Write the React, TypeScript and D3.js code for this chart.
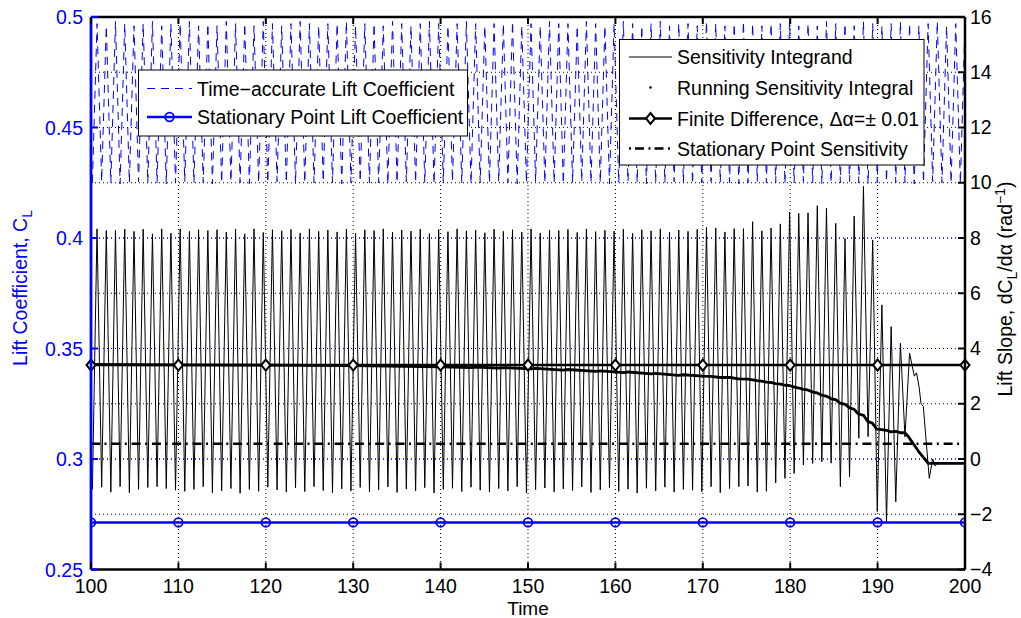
import React from 'react';
import * as d3 from 'd3';

const W = 1021, H = 618;
const PL = 91, PR = 965, PT = 17, PB = 569.5;

const xTicks = [100, 110, 120, 130, 140, 150, 160, 170, 180, 190, 200];
const leftTicks = [0.25, 0.3, 0.35, 0.4, 0.45, 0.5];
const leftTickLabels = ['0.25', '0.3', '0.35', '0.4', '0.45', '0.5'];
const rightTicks = [-4, -2, 0, 2, 4, 6, 8, 10, 12, 14, 16];
const rightTickLabels = ['−4', '−2', '0', '2', '4', '6', '8', '10', '12', '14', '16'];

// times of the shedding-cycle maxima and minima
const peakTime = [
  100.69, 101.75, 102.80, 103.86, 104.92, 105.97, 107.03, 108.09, 109.14, 110.20,
  111.26, 112.31, 113.37, 114.42, 115.48, 116.54, 117.59, 118.65, 119.71, 120.76,
  121.82, 122.88, 123.93, 124.99, 126.05, 127.10, 128.16, 129.22, 130.27, 131.33,
  132.39, 133.44, 134.50, 135.55, 136.61, 137.67, 138.72, 139.78, 140.84, 141.89,
  142.95, 144.01, 145.06, 146.12, 147.18, 148.23, 149.29, 150.35, 151.40, 152.46,
  153.52, 154.57, 155.63, 156.68, 157.74, 158.80, 159.85, 160.91, 161.97, 163.02,
  164.08, 165.14, 166.19, 167.25, 168.31, 169.36, 170.42, 171.48, 172.53, 173.59,
  174.65, 175.70, 176.76, 177.81, 178.87, 179.93, 180.98, 182.04, 183.10, 184.15,
  185.21, 186.27, 187.32, 188.38, 189.44, 190.49, 191.55, 192.61, 193.66, 194.72,
  195.78, 196.83, 197.89, 198.94, 200.00,
];
const troughTime = [
  100.16, 101.22, 102.27, 103.33, 104.39, 105.44, 106.50, 107.56, 108.61, 109.67,
  110.73, 111.78, 112.84, 113.89, 114.95, 116.01, 117.06, 118.12, 119.18, 120.23,
  121.29, 122.35, 123.40, 124.46, 125.52, 126.57, 127.63, 128.69, 129.74, 130.80,
  131.86, 132.91, 133.97, 135.02, 136.08, 137.14, 138.19, 139.25, 140.31, 141.36,
  142.42, 143.48, 144.53, 145.59, 146.65, 147.70, 148.76, 149.82, 150.87, 151.93,
  152.99, 154.04, 155.10, 156.15, 157.21, 158.27, 159.32, 160.38, 161.44, 162.49,
  163.55, 164.61, 165.66, 166.72, 167.78, 168.83, 169.89, 170.95, 172.00, 173.06,
  174.12, 175.17, 176.23, 177.28, 178.34, 179.40, 180.45, 181.51, 182.57, 183.62,
  184.68, 185.74, 186.79, 187.85, 188.91, 189.96, 191.02, 192.08, 193.13, 194.19,
  195.25, 196.30, 197.36, 198.41, 199.47,
];

// Sensitivity integrand (right axis): maxima and minima per cycle
const integrandPeak = [
  8.33, 8.27, 8.27, 8.32, 8.24, 8.32, 8.15, 8.33, 8.18, 8.33,
  8.24, 8.30, 8.27, 8.30, 8.21, 8.32, 8.15, 8.33, 8.20, 8.30,
  8.26, 8.31, 8.18, 8.33, 8.24, 8.29, 8.22, 8.32, 8.17, 8.30,
  8.27, 8.33, 8.21, 8.29, 8.25, 8.32, 8.16, 8.31, 8.23, 8.33,
  8.26, 8.28, 8.19, 8.32, 8.24, 8.30, 8.22, 8.33, 8.18, 8.29,
  8.27, 8.31, 8.20, 8.33, 8.23, 8.28, 8.25, 8.32, 8.17, 8.30,
  8.26, 8.33, 8.21, 8.29, 8.24, 8.31,
  8.38, 8.36, 8.22, 8.34, 8.34, 8.59, 8.26, 8.36, 8.51, 8.94,
  8.89, 8.91, 9.17, 9.08, 8.53, 7.98, 8.79, 9.87, 7.93, 5.58,
  4.79, 4.19, 3.83,
];
const integrandTrough = [
  -1.10, -1.02, -1.20, -1.00, -1.22, -1.10, -1.03, -1.00, -1.07, -1.13,
  -1.17, -1.10, -1.00, -1.22, -1.15, -1.07, -1.24, -1.10, -1.17, -1.02,
  -1.12, -1.20, -1.05, -1.18, -1.00, -1.14, -1.22, -1.08, -1.16, -1.03,
  -1.19, -1.11, -1.01, -1.21, -1.09, -1.15, -1.04, -1.23, -1.10, -1.06,
  -1.18, -1.02, -1.13, -1.20, -1.07, -1.16, -1.00, -1.22, -1.11, -1.05,
  -1.19, -1.08, -1.14, -1.01, -1.21, -1.12, -1.04, -1.17, -1.09, -1.23,
  -1.06, -1.15, -1.02, -1.20, -1.10, -1.13,
  -1.18, -1.00, -1.22, -1.07, -1.00, -0.98, -1.20, -1.17, -0.86, -0.70,
  -0.52, -0.22, -0.16, -0.10, -0.15, -1.00, -0.64, 0.75, 0.81, -1.90,
  -2.27, -1.55, 0.80,
];
const integrandTailTime = [194.2, 194.45, 194.75, 194.97, 195.23, 195.91, 196.3, 196.57, 196.83];
const integrandTailValue = [3.0, 3.12, 2.6, 2.0, 1.9, -0.7, 0.0, -0.25, -0.14];

// Time-accurate lift coefficient (left axis): maxima and minima per cycle
const liftHigh = [
  0.497, 0.496, 0.498, 0.497, 0.496, 0.497, 0.498, 0.496, 0.497, 0.497,
  0.498, 0.496, 0.497, 0.496, 0.498, 0.497, 0.497, 0.496, 0.498, 0.497,
  0.496, 0.497, 0.498, 0.497, 0.496, 0.497, 0.497, 0.498, 0.496, 0.497,
  0.497, 0.496, 0.498, 0.497, 0.496, 0.497, 0.498, 0.497, 0.496, 0.497,
  0.498, 0.497, 0.496, 0.497, 0.497, 0.498, 0.496, 0.497, 0.496, 0.498,
  0.497, 0.497, 0.496, 0.498, 0.497, 0.496, 0.497, 0.498, 0.497, 0.496,
  0.497, 0.498, 0.496, 0.497, 0.497, 0.496, 0.498, 0.497, 0.496, 0.497,
  0.498, 0.497, 0.496, 0.497, 0.497, 0.498, 0.496, 0.497, 0.496, 0.498,
  0.497, 0.497, 0.496, 0.498, 0.497, 0.496, 0.497, 0.498, 0.497, 0.496,
  0.497, 0.498, 0.496, 0.497, 0.497,
];
const liftLow = [
  0.425, 0.4255, 0.425, 0.4245, 0.425, 0.4255, 0.425, 0.425, 0.4245, 0.425,
  0.4255, 0.425, 0.425, 0.4245, 0.425, 0.4255, 0.425, 0.4245, 0.425, 0.425,
  0.4255, 0.425, 0.4245, 0.425, 0.425, 0.4255, 0.425, 0.4245, 0.425, 0.4255,
  0.425, 0.425, 0.4245, 0.425, 0.4255, 0.425, 0.425, 0.4245, 0.425, 0.4255,
  0.425, 0.4245, 0.425, 0.425, 0.4255, 0.425, 0.4245, 0.425, 0.4255, 0.425,
  0.425, 0.4245, 0.425, 0.4255, 0.425, 0.425, 0.4245, 0.425, 0.4255, 0.425,
  0.4245, 0.425, 0.425, 0.4255, 0.425, 0.4245, 0.425, 0.4255, 0.425, 0.425,
  0.4245, 0.425, 0.4255, 0.425, 0.425, 0.4245, 0.425, 0.4255, 0.425, 0.4245,
  0.425, 0.425, 0.4255, 0.425, 0.4245, 0.425, 0.4255, 0.425, 0.425, 0.4245,
  0.425, 0.4255, 0.425, 0.425, 0.4245,
];

// Running sensitivity integral (right axis)
const runTime = [
  100, 110, 120, 130, 140, 143.5, 144.0, 146.6, 147.2, 150.4, 150.9, 154.0, 154.6, 157.7, 158.3,
  161.0, 161.5, 164.1, 164.6, 167.2, 167.8, 170.0, 170.9, 172.0, 173.1, 174.1, 175.2, 176.2, 176.7,
  177.3, 177.8, 178.3, 178.9, 179.4, 179.9, 180.5, 181.0, 181.5, 182.0, 182.6, 183.1,
  183.6, 184.1, 184.7, 185.2, 185.7, 186.3, 186.8, 187.3, 187.8, 188.4, 188.9, 189.4,
  189.9, 190.5, 191.0, 191.5, 192.1, 192.6, 193.1, 193.5, 194.7, 195.8, 200,
];
const runValue = [
  3.42, 3.41, 3.40, 3.38, 3.34, 3.31, 3.33, 3.29, 3.31, 3.26, 3.28, 3.22, 3.24, 3.17, 3.19,
  3.13, 3.15, 3.08, 3.10, 3.03, 3.05, 3.00, 2.99, 2.95, 2.95, 2.90, 2.89, 2.84, 2.82,
  2.78, 2.77, 2.73, 2.71, 2.67, 2.66, 2.60, 2.57, 2.52, 2.50, 2.42, 2.39,
  2.31, 2.28, 2.18, 2.15, 2.02, 1.98, 1.85, 1.80, 1.63, 1.58, 1.35, 1.30,
  1.08, 1.06, 1.04, 0.98, 1.00, 0.95, 0.95, 0.82, 0.27, -0.16, -0.16,
];

const fdTime = [100, 110, 120, 130, 140, 150, 160, 170, 180, 190, 200];
const fdValue = [3.4, 3.4, 3.4, 3.4, 3.4, 3.4, 3.4, 3.4, 3.4, 3.4, 3.4];
const spLiftValue = [0.2713, 0.2713, 0.2713, 0.2713, 0.2713, 0.2713, 0.2713, 0.2713, 0.2713, 0.2713, 0.2713];
const spSensitivity = 0.55;

const FONT = '"Liberation Sans", Arial, Helvetica, sans-serif';
const BLUE = '#0000ff';
const FS = 19.5;
const FSS = 14;

export default function App() {
  const x = d3.scaleLinear().domain([100, 200]).range([PL, PR]);
  const yL = d3.scaleLinear().domain([0.25, 0.5]).range([PB, PT]);
  const yR = d3.scaleLinear().domain([-4, 16]).range([PB, PT]);

  const integrandPts: [number, number][] = [];
  for (let k = 0; k < integrandPeak.length; k++) {
    integrandPts.push([troughTime[k], integrandTrough[k]]);
    integrandPts.push([peakTime[k], integrandPeak[k]]);
  }
  integrandTailTime.forEach((t, i) => integrandPts.push([t, integrandTailValue[i]]));

  const liftPts: [number, number][] = [];
  for (let k = 0; k < liftHigh.length; k++) {
    liftPts.push([troughTime[k], liftLow[k]]);
    liftPts.push([peakTime[k], liftHigh[k]]);
  }

  const lineR = d3.line<[number, number]>().x(d => x(d[0])).y(d => yR(d[1]));
  const lineL = d3.line<[number, number]>().x(d => x(d[0])).y(d => yL(d[1]));

  const runPts = runTime.map((t, i) => [t, runValue[i]] as [number, number]);
  const fdPts = fdTime.map((t, i) => [t, fdValue[i]] as [number, number]);
  const spPts = fdTime.map((t, i) => [t, spLiftValue[i]] as [number, number]);

  const diamond = (cx: number, cy: number) =>
    `M${cx},${cy - 5.5}L${cx + 4.5},${cy}L${cx},${cy + 5.5}L${cx - 4.5},${cy}Z`;

  const tickLen = 7;

  return (
    <svg width={W} height={H} style={{ position: 'absolute', left: 0, top: 0, background: '#fff' }}
      fontFamily={FONT}>
      <defs>
        <clipPath id="plotClip">
          <rect x={PL} y={PT} width={PR - PL} height={PB - PT} />
        </clipPath>
      </defs>
      <rect x={0} y={0} width={W} height={H} fill="#fff" />

      {/* grids */}
      <g>
        {xTicks.slice(1, -1).map(t => (
          <line key={'vx' + t} x1={x(t)} x2={x(t)} y1={PT} y2={PB} stroke="#000" strokeWidth={1}
            strokeDasharray="1,3" />
        ))}
        {rightTicks.slice(1, -1).map(t => (
          <line key={'hr' + t} x1={PL} x2={PR} y1={yR(t)} y2={yR(t)} stroke="#000" strokeWidth={1}
            strokeDasharray="1,3" />
        ))}
        {leftTicks.slice(1, -1).map(t => (
          <line key={'hl' + t} x1={PL} x2={PR} y1={yL(t)} y2={yL(t)} stroke={BLUE} strokeWidth={1}
            strokeDasharray="1,3" />
        ))}
      </g>

      <g clipPath="url(#plotClip)">
        {/* time-accurate lift coefficient */}
        <path d={lineL(liftPts) || ''} fill="none" stroke={BLUE} strokeWidth={1} strokeDasharray="8,6" />
        {/* stationary point lift coefficient */}
        <path d={lineL(spPts) || ''} fill="none" stroke={BLUE} strokeWidth={2.5} />
        {spPts.map(d => (
          <circle key={'c' + d[0]} cx={x(d[0])} cy={yL(d[1])} r={4.3} fill="none" stroke={BLUE} strokeWidth={1.8} />
        ))}
        {/* sensitivity integrand */}
        <path d={lineR(integrandPts) || ''} fill="none" stroke="#000" strokeWidth={1} strokeLinejoin="round" />
        {/* stationary point sensitivity */}
        <line x1={PL} x2={PR} y1={yR(spSensitivity)} y2={yR(spSensitivity)} stroke="#000" strokeWidth={2.5}
          strokeDasharray="9,4.5,2,4.8" />
        {/* running sensitivity integral */}
        <path d={lineR(runPts) || ''} fill="none" stroke="#000" strokeWidth={2.8} strokeLinejoin="round" />
        {/* finite difference */}
        <path d={lineR(fdPts) || ''} fill="none" stroke="#000" strokeWidth={2.5} />
      </g>
      {fdPts.map(d => (
        <path key={'d' + d[0]} d={diamond(x(d[0]), yR(d[1]))} fill="#fff" stroke="#000" strokeWidth={2} />
      ))}

      {/* axes frame */}
      <line x1={PL} x2={PR} y1={PT} y2={PT} stroke="#000" strokeWidth={2.5} />
      <line x1={PL} x2={PR} y1={PB} y2={PB} stroke="#000" strokeWidth={2.5} />
      <line x1={PR} x2={PR} y1={PT} y2={PB} stroke="#000" strokeWidth={2.5} />
      <line x1={PL} x2={PL} y1={PT} y2={PB} stroke={BLUE} strokeWidth={2.8} />

      {/* x ticks */}
      {xTicks.map(t => (
        <g key={'xt' + t}>
          <line x1={x(t)} x2={x(t)} y1={PB} y2={PB - tickLen} stroke="#000" strokeWidth={2} />
          <line x1={x(t)} x2={x(t)} y1={PT} y2={PT + tickLen} stroke="#000" strokeWidth={2} />
          <text x={x(t)} y={592.5} textAnchor="middle" fontSize={FS} fill="#000">{t}</text>
        </g>
      ))}
      <text x={(PL + PR) / 2} y={615} textAnchor="middle" fontSize={19} fill="#000">Time</text>

      {/* left ticks */}
      {leftTicks.map((t, i) => (
        <g key={'lt' + t}>
          <line x1={PL} x2={PL + tickLen} y1={yL(t)} y2={yL(t)} stroke={BLUE} strokeWidth={2} />
          <text x={83} y={yL(t) + 7} textAnchor="end" fontSize={FS} fill={BLUE}>{leftTickLabels[i]}</text>
        </g>
      ))}
      <text transform="translate(27,288) rotate(-90)" textAnchor="middle" fontSize={FS} fill={BLUE}>
        Lift Coefficient, C<tspan dy={5} fontSize={FSS}>L</tspan>
      </text>

      {/* right ticks */}
      {rightTicks.map((t, i) => (
        <g key={'rt' + t}>
          <line x1={PR} x2={PR - tickLen} y1={yR(t)} y2={yR(t)} stroke="#000" strokeWidth={2} />
          <text x={970} y={yR(t) + 6.5} textAnchor="start" fontSize={FS} fill="#000">{rightTickLabels[i]}</text>
        </g>
      ))}
      <text transform="translate(1012,289) rotate(-90)" textAnchor="middle" fontSize={FS} fill="#000">
        Lift Slope, dC<tspan dy={5} fontSize={FSS}>L</tspan><tspan dy={-5}>/dα (rad</tspan><tspan dy={-7} fontSize={FSS}>−1</tspan><tspan dy={7}>)</tspan>
      </text>

      {/* legend 1 */}
      <g>
        <rect x={138.5} y={70} width={329} height={66} fill="#fff" stroke="#000" strokeWidth={1} />
        <line x1={147} x2={192} y1={88.5} y2={88.5} stroke={BLUE} strokeWidth={1} strokeDasharray="8,6" />
        <text x={197} y={95.5} fontSize={FS} fill="#000">Time−accurate Lift Coefficient</text>
        <line x1={147} x2={192} y1={117} y2={117} stroke={BLUE} strokeWidth={2.5} />
        <circle cx={169.5} cy={117} r={4.3} fill="none" stroke={BLUE} strokeWidth={1.8} />
        <text x={197} y={124} fontSize={FS} fill="#000">Stationary Point Lift Coefficient</text>
      </g>

      {/* legend 2 */}
      <g>
        <rect x={619.5} y={39.5} width={304.5} height={125.5} fill="#fff" stroke="#000" strokeWidth={1} />
        <line x1={629} x2={672} y1={57} y2={57} stroke="#000" strokeWidth={1} />
        <text x={677} y={64} fontSize={FS} fill="#000">Sensitivity Integrand</text>
        <circle cx={650.5} cy={87.5} r={1.3} fill="#000" />
        <text x={677} y={94.5} fontSize={FS} fill="#000">Running Sensitivity Integral</text>
        <line x1={629} x2={672} y1={118.5} y2={118.5} stroke="#000" strokeWidth={2.5} />
        <path d={diamond(650.5, 118.5)} fill="#fff" stroke="#000" strokeWidth={2} />
        <text x={677} y={125.5} fontSize={FS} fill="#000">Finite Difference, Δα=± 0.01</text>
        <line x1={629} x2={672} y1={148.5} y2={148.5} stroke="#000" strokeWidth={2.5} strokeDasharray="2,4,9,4.5" />
        <text x={677} y={155.5} fontSize={FS} fill="#000">Stationary Point Sensitivity</text>
      </g>
    </svg>
  );
}
